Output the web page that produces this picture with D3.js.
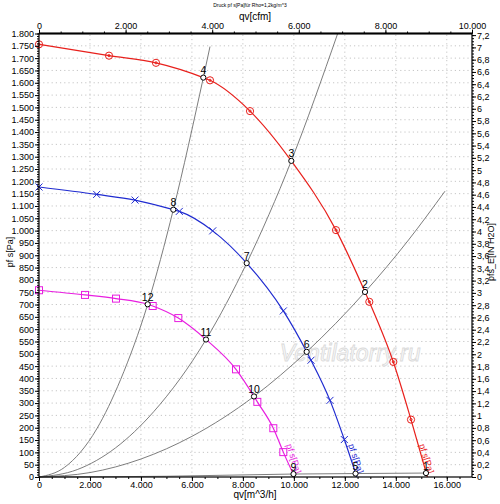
<!DOCTYPE html>
<html>
<head>
<meta charset="utf-8">
<script src="https://cdn.jsdelivr.net/npm/d3@7"></script>
<style>
body { margin: 0; background: #fff; }
svg { display: block; font-family: "Liberation Sans", Arial, sans-serif; }
</style>
</head>
<body>
<div id="chart"></div>
<script>
// fan curves, q in m^3/h, p in Pa
var redQ = [0, 2747, 4591, 6710, 8280, 11654, 12961, 13903, 14597, 15240];
var redP = [1756, 1710, 1681, 1610, 1485, 1002, 711, 467, 233, 0];
var blueQ = [0, 2263, 3767, 5506, 6816, 9587, 10673, 11418, 11980, 12470];
var blueP = [1177, 1147, 1124, 1078, 999, 674, 474, 311, 152, 0];
var magQ = [0, 1805, 3021, 4461, 5466, 7730, 8567, 9194, 9586, 10030];
var magP = [758, 739, 724, 694, 645, 437, 305, 198, 101, 0];

// operating points (intersections)
var opLabel = ["1", "2", "3", "4", "5", "6", "7", "8", "9", "10", "11", "12"];
var opQ = [15185, 12792, 9900, 6448, 12420, 10503, 8150, 5270, 9985, 8436, 6553, 4265];
var opP = [16, 751, 1283, 1621, 14, 508, 868, 1085, 12, 327, 558, 701];
var opCurve = ["red", "red", "red", "red", "blue", "blue", "blue", "blue", "mag", "mag", "mag", "mag"];

// system curves
var sysAQ = [0, 1000, 2264, 3200, 4265, 5270, 6448, 6710];
var sysAP = [0, 39, 195, 395, 701, 1085, 1621, 1747];
var sysBQ = [0, 1500, 3000, 4500, 6553, 8150, 9900, 11720];
var sysBP = [0, 30, 118, 265, 558, 868, 1283, 1800];
var sysCQ = [0, 2000, 4000, 6000, 8436, 10503, 12792, 14500, 15930];
var sysCP = [0, 18, 73, 165, 327, 508, 751, 962, 1160];
var sysDQ = [0, 5000, 9985, 12420, 15185];
var sysDP = [0, 3, 12, 14, 16];

var leftTicks = d3.range(0, 1801, 50);
var rightTicks = d3.range(0, 37).map(function (i) { return i / 5; });
var bottomTicks = d3.range(0, 16001, 2000);
var topTicks = d3.range(0, 10001, 2000);

var W = 500, H = 504;
var margin = { top: 33.5, right: 28, bottom: 27, left: 39 };

var de = d3.formatLocale({ decimal: ",", thousands: ".", grouping: [3], currency: ["", "€"] });
var fmtInt = de.format(",d");
var fmtDec = de.format(",.1~f");

var svg = d3.select("#chart").append("svg")
  .attr("width", W).attr("height", H);

var x = d3.scaleLinear().domain([0, 16990]).range([margin.left, W - margin.right]);
var y = d3.scaleLinear().domain([0, 1800]).range([H - margin.bottom, margin.top]);
var xCfm = d3.scaleLinear().domain([0, 10000]).range(x.range());
var yIn = d3.scaleLinear().domain([0, 1800 / 249.089]).range(y.range());

// grid
svg.append("g").selectAll("line").data(leftTicks.slice(1, -1)).enter().append("line")
  .attr("x1", x(0)).attr("x2", x(16990))
  .attr("y1", function (d) { return y(d); }).attr("y2", function (d) { return y(d); })
  .attr("stroke", "#b8b8b8").attr("stroke-width", 0.8).attr("stroke-dasharray", "1.2,3");
svg.append("g").selectAll("line").data(bottomTicks.slice(1)).enter().append("line")
  .attr("y1", y(0)).attr("y2", y(1800))
  .attr("x1", function (d) { return x(d); }).attr("x2", function (d) { return x(d); })
  .attr("stroke", "#b8b8b8").attr("stroke-width", 0.8).attr("stroke-dasharray", "1.2,3");

// watermark
svg.append("text")
  .attr("x", x(9450)).attr("y", y(470))
  .attr("font-size", 23).attr("font-style", "italic")
  .attr("fill", "#f8f8f8").attr("stroke", "#dadada").attr("stroke-width", 0.8)
  .text("Ventilatorry.ru");

function pts(qs, ps) {
  return qs.map(function (q, i) { return [q, ps[i]]; });
}
var line = d3.line()
  .x(function (d) { return x(d[0]); })
  .y(function (d) { return y(d[1]); })
  .curve(d3.curveMonotoneX);

// system curves
[[sysAQ, sysAP], [sysBQ, sysBP], [sysCQ, sysCP], [sysDQ, sysDP]].forEach(function (s) {
  svg.append("path").attr("d", line(pts(s[0], s[1])))
    .attr("fill", "none").attr("stroke", "#6e6e6e").attr("stroke-width", 0.9);
});

// fan curves
var fans = [
  { key: "red", q: redQ, p: redP, color: "#e8201c" },
  { key: "blue", q: blueQ, p: blueP, color: "#1f2bd0" },
  { key: "mag", q: magQ, p: magP, color: "#e81ee0" }
];

fans.forEach(function (f) {
  var all = pts(f.q, f.p);
  opQ.forEach(function (q, i) {
    if (opCurve[i] === f.key && opP[i] > 30) all.push([q, opP[i]]);
  });
  all.sort(function (a, b) { return a[0] - b[0]; });
  svg.append("path").attr("d", line(all))
    .attr("fill", "none").attr("stroke", f.color).attr("stroke-width", 1.2);

  var m = svg.append("g").attr("stroke", f.color).attr("fill", "none").attr("stroke-width", 1);
  var markers = pts(f.q, f.p).slice(0, -1);
  markers.forEach(function (d) {
    var cx = x(d[0]), cy = y(d[1]);
    if (f.key === "red") {
      m.append("circle").attr("cx", cx).attr("cy", cy).attr("r", 3.6);
      m.append("circle").attr("cx", cx).attr("cy", cy).attr("r", 1.1);
    } else if (f.key === "blue") {
      m.append("path").attr("d", "M" + (cx - 3.5) + "," + (cy - 3.5) + "L" + (cx + 3.5) + "," + (cy + 3.5) +
        "M" + (cx - 3.5) + "," + (cy + 3.5) + "L" + (cx + 3.5) + "," + (cy - 3.5));
    } else {
      m.append("rect").attr("x", cx - 3.5).attr("y", cy - 3.5).attr("width", 7).attr("height", 7);
    }
  });

  // curve label along the falling end
  var endQ = f.q[f.q.length - 1];
  var lx = x(endQ) - 8.5, ly = y(0) - 32;
  svg.append("text")
    .attr("transform", "translate(" + lx + "," + ly + ") rotate(72)")
    .attr("font-size", 9).attr("fill", f.color)
    .text("pf s[Pa]");
});

// operating points
var ops = svg.append("g");
opQ.forEach(function (q, i) {
  var cx = x(q), cy = y(opP[i]);
  ops.append("circle").attr("cx", cx).attr("cy", cy).attr("r", 2.6)
    .attr("fill", "#fff").attr("stroke", "#000").attr("stroke-width", 1);
  ops.append("text").attr("x", cx).attr("y", cy - 3.5)
    .attr("text-anchor", "middle").attr("font-size", 10.5).attr("fill", "#000")
    .text(opLabel[i]);
});

// frame
svg.append("rect")
  .attr("x", x(0)).attr("y", y(1800))
  .attr("width", x(16990) - x(0)).attr("height", y(0) - y(1800))
  .attr("fill", "none").attr("stroke", "#000").attr("stroke-width", 1.2);
svg.append("line").attr("x1", x(0)).attr("x2", x(16990)).attr("y1", y(1800)).attr("y2", y(1800))
  .attr("stroke", "#000").attr("stroke-width", 2);

function styleAxis(g) {
  g.select(".domain").remove();
  g.selectAll("text").attr("font-size", 9).attr("fill", "#000")
    .attr("font-family", "'Liberation Sans', Arial, sans-serif");
  g.selectAll("line").attr("stroke", "#000");
}

// left axis
svg.append("g").attr("transform", "translate(" + x(0) + ",0)")
  .call(d3.axisLeft(y).tickValues(d3.range(0, 1801, 10)).tickSize(2).tickFormat(""))
  .call(styleAxis);
svg.append("g").attr("transform", "translate(" + x(0) + ",0)")
  .call(d3.axisLeft(y).tickValues(leftTicks).tickSize(4).tickPadding(1).tickFormat(fmtInt))
  .call(styleAxis);

// right axis
svg.append("g").attr("transform", "translate(" + x(16990) + ",0)")
  .call(d3.axisRight(yIn).tickValues(d3.range(0, 145).map(function (i) { return i / 20; })).tickSize(2).tickFormat(""))
  .call(styleAxis);
svg.append("g").attr("transform", "translate(" + x(16990) + ",0)")
  .call(d3.axisRight(yIn).tickValues(rightTicks).tickSize(4).tickPadding(1).tickFormat(fmtDec))
  .call(styleAxis);

// bottom axis
svg.append("g").attr("transform", "translate(0," + y(0) + ")")
  .call(d3.axisBottom(x).tickValues(d3.range(0, 16990, 500)).tickSize(2).tickFormat(""))
  .call(styleAxis);
svg.append("g").attr("transform", "translate(0," + y(0) + ")")
  .call(d3.axisBottom(x).tickValues(bottomTicks).tickSize(4).tickPadding(1).tickFormat(fmtInt))
  .call(styleAxis);

// top axis (cfm)
svg.append("g").attr("transform", "translate(0," + y(1800) + ")")
  .call(d3.axisTop(xCfm).tickValues(d3.range(0, 10001, 500)).tickSize(2).tickFormat(""))
  .call(styleAxis);
svg.append("g").attr("transform", "translate(0," + y(1800) + ")")
  .call(d3.axisTop(xCfm).tickValues(topTicks).tickSize(4).tickPadding(1).tickFormat(fmtInt))
  .call(styleAxis);

// titles
svg.append("text").attr("x", 250).attr("y", 7).attr("text-anchor", "middle")
  .attr("font-size", 5).text("Druck pf s[Pa]für Rho=1,2kg/m^3");
svg.append("text").attr("x", 255).attr("y", 20).attr("text-anchor", "middle")
  .attr("font-size", 10).text("qv[cfm]");
svg.append("text").attr("x", 255).attr("y", 498).attr("text-anchor", "middle")
  .attr("font-size", 10).text("qv[m^3/h]");
svg.append("text").attr("transform", "translate(13,252) rotate(-90)").attr("text-anchor", "middle")
  .attr("font-size", 9).text("pf s[Pa]");
svg.append("text").attr("transform", "translate(494,252) rotate(-90)").attr("text-anchor", "middle")
  .attr("font-size", 9).text("pfs_E[IN H2O]");
</script>
</body>
</html>
